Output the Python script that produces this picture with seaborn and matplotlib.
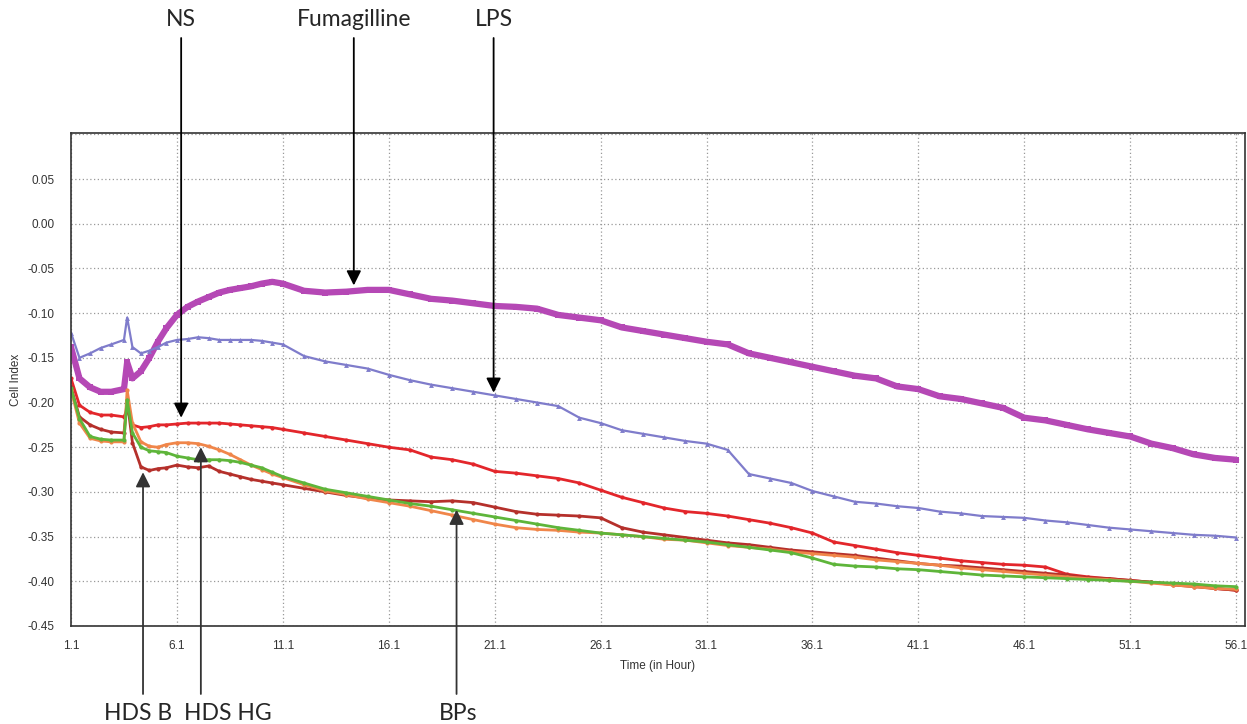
import numpy as np
import pandas as pd
import matplotlib
matplotlib.use("Agg")
import matplotlib.pyplot as plt
import seaborn as sns
from matplotlib.ticker import MultipleLocator, FixedLocator, FuncFormatter

# ---------------- data ----------------
time_h = [1.1, 1.5, 2.0, 2.5, 3.0, 3.6, 3.75, 4.0, 4.4, 4.8, 5.2, 5.6, 6.1, 6.6, 7.1, 7.6,
          8.1, 8.6, 9.1, 9.6, 10.1, 10.6, 11.1, 12.1, 13.1, 14.1, 15.1, 16.1, 17.1, 18.1,
          19.1, 20.1, 21.1, 22.1, 23.1, 24.1, 25.1, 26.1, 27.1, 28.1, 29.1, 30.1, 31.1,
          32.1, 33.1, 34.1, 35.1, 36.1, 37.1, 38.1, 39.1, 40.1, 41.1, 42.1, 43.1, 44.1,
          45.1, 46.1, 47.1, 48.1, 49.1, 50.1, 51.1, 52.1, 53.1, 54.1, 55.1, 56.1]

fumagilline = [-0.138, -0.173, -0.183, -0.188, -0.188, -0.185, -0.155, -0.173, -0.165, -0.150,
               -0.132, -0.117, -0.102, -0.093, -0.087, -0.082, -0.077, -0.074, -0.072, -0.070,
               -0.067, -0.065, -0.067, -0.075, -0.077, -0.076, -0.074, -0.074, -0.079, -0.084,
               -0.086, -0.089, -0.092, -0.093, -0.095, -0.102, -0.105, -0.108, -0.116, -0.120,
               -0.124, -0.128, -0.132, -0.135, -0.145, -0.150, -0.155, -0.160, -0.165, -0.170,
               -0.173, -0.182, -0.185, -0.193, -0.196, -0.201, -0.206, -0.217, -0.220, -0.225,
               -0.230, -0.234, -0.238, -0.246, -0.251, -0.258, -0.262, -0.264]

lps = [-0.122, -0.150, -0.145, -0.139, -0.135, -0.130, -0.105, -0.138, -0.145, -0.142,
       -0.138, -0.133, -0.130, -0.129, -0.127, -0.128, -0.130, -0.130, -0.130, -0.130,
       -0.131, -0.133, -0.135, -0.148, -0.154, -0.158, -0.162, -0.169, -0.175, -0.180,
       -0.184, -0.188, -0.192, -0.196, -0.200, -0.204, -0.217, -0.223, -0.231, -0.235,
       -0.239, -0.243, -0.246, -0.253, -0.280, -0.285, -0.290, -0.299, -0.305, -0.311,
       -0.313, -0.316, -0.318, -0.322, -0.324, -0.327, -0.328, -0.329, -0.332, -0.334,
       -0.337, -0.340, -0.342, -0.344, -0.346, -0.348, -0.349, -0.351]

ns = [-0.173, -0.203, -0.211, -0.214, -0.214, -0.216, -0.208, -0.225, -0.228, -0.227,
      -0.225, -0.225, -0.224, -0.223, -0.223, -0.223, -0.223, -0.224, -0.225, -0.226,
      -0.227, -0.228, -0.230, -0.234, -0.238, -0.242, -0.246, -0.250, -0.253, -0.261,
      -0.264, -0.269, -0.277, -0.279, -0.282, -0.285, -0.290, -0.298, -0.306, -0.312,
      -0.318, -0.322, -0.324, -0.327, -0.331, -0.335, -0.340, -0.346, -0.356, -0.360,
      -0.364, -0.368, -0.371, -0.374, -0.377, -0.379, -0.381, -0.382, -0.384, -0.392,
      -0.395, -0.397, -0.399, -0.401, -0.403, -0.405, -0.408, -0.410]

hds_b = [-0.183, -0.216, -0.225, -0.230, -0.233, -0.234, -0.197, -0.245, -0.272, -0.276,
         -0.274, -0.273, -0.270, -0.272, -0.273, -0.271, -0.277, -0.280, -0.283, -0.286,
         -0.288, -0.290, -0.292, -0.296, -0.300, -0.304, -0.307, -0.309, -0.310, -0.311,
         -0.310, -0.312, -0.317, -0.322, -0.325, -0.326, -0.327, -0.329, -0.340, -0.345,
         -0.348, -0.351, -0.354, -0.357, -0.359, -0.362, -0.365, -0.367, -0.369, -0.371,
         -0.374, -0.377, -0.380, -0.382, -0.383, -0.385, -0.387, -0.389, -0.391, -0.393,
         -0.396, -0.397, -0.399, -0.401, -0.404, -0.406, -0.408, -0.410]

hds_hg = [-0.186, -0.223, -0.240, -0.243, -0.244, -0.244, -0.186, -0.223, -0.244, -0.249,
          -0.250, -0.247, -0.245, -0.245, -0.246, -0.249, -0.253, -0.258, -0.264, -0.270,
          -0.275, -0.280, -0.284, -0.292, -0.299, -0.303, -0.308, -0.312, -0.316, -0.321,
          -0.326, -0.331, -0.336, -0.340, -0.342, -0.343, -0.345, -0.346, -0.348, -0.350,
          -0.353, -0.354, -0.357, -0.360, -0.362, -0.364, -0.367, -0.369, -0.371, -0.373,
          -0.376, -0.378, -0.380, -0.382, -0.385, -0.387, -0.389, -0.391, -0.393, -0.395,
          -0.397, -0.398, -0.400, -0.402, -0.404, -0.406, -0.408, -0.409]

bps = [-0.184, -0.218, -0.238, -0.241, -0.242, -0.242, -0.197, -0.234, -0.250, -0.254,
       -0.255, -0.256, -0.260, -0.262, -0.264, -0.264, -0.264, -0.265, -0.267, -0.270,
       -0.273, -0.278, -0.283, -0.290, -0.297, -0.301, -0.305, -0.309, -0.313, -0.316,
       -0.320, -0.324, -0.328, -0.332, -0.336, -0.340, -0.343, -0.346, -0.348, -0.350,
       -0.352, -0.354, -0.356, -0.359, -0.362, -0.365, -0.368, -0.374, -0.381, -0.383,
       -0.384, -0.386, -0.387, -0.389, -0.391, -0.393, -0.394, -0.395, -0.396, -0.397,
       -0.398, -0.399, -0.400, -0.401, -0.402, -0.403, -0.405, -0.406]

series_names = ["Fumagilline", "LPS", "NS", "HDS B", "HDS HG", "BPs"]
series_values = [fumagilline, lps, ns, hds_b, hds_hg, bps]

y_ticks = [-0.45, -0.40, -0.35, -0.30, -0.25, -0.20, -0.15, -0.10, -0.05, 0.00, 0.05, 0.10]
x_ticks = [1.1, 6.1, 11.1, 16.1, 21.1, 26.1, 31.1, 36.1, 41.1, 46.1, 51.1, 56.1]

# annotation labels and the points they indicate
ann_top = [("NS", 6.3, -0.217), ("Fumagilline", 14.45, -0.069), ("LPS", 21.05, -0.189)]
ann_bottom = [("HDS B", 4.5, -0.278), ("HDS HG", 7.23, -0.250), ("BPs", 19.3, -0.320)]

# ---------------- styles ----------------
colors = {"Fumagilline": "#B548B5", "LPS": "#7F7CCB", "NS": "#E3262B",
          "HDS B": "#B5302B", "HDS HG": "#F0864A", "BPs": "#5EB53A"}
markers = {"Fumagilline": "s", "LPS": "^", "NS": "o", "HDS B": "o", "HDS HG": "o", "BPs": "o"}
lws = {"Fumagilline": 4.5, "LPS": 1.6, "NS": 2.0, "HDS B": 2.0, "HDS HG": 2.0, "BPs": 2.0}
mss = {"Fumagilline": 5, "LPS": 3.5, "NS": 3, "HDS B": 3, "HDS HG": 3, "BPs": 3}

rows = []
for name, vals in zip(series_names, series_values):
    for t, v in zip(time_h, vals):
        rows.append({"Time": t, "Cell Index": v, "Series": name})
df = pd.DataFrame(rows)

sns.set_style("white")
plt.rcParams["font.family"] = ["Liberation Sans", "DejaVu Sans"]

fig = plt.figure(figsize=(12.47, 7.24), dpi=100)
ax = fig.add_axes([71 / 1247, 98 / 724, 1174 / 1247, 493 / 724])

draw_order = ["Fumagilline", "LPS", "NS", "HDS B", "HDS HG", "BPs"]
for name in draw_order:
    sub = df[df["Series"] == name]
    sns.lineplot(data=sub, x="Time", y="Cell Index", ax=ax, color=colors[name],
                 marker=markers[name], markersize=mss[name], linewidth=lws[name],
                 markeredgewidth=0, legend=False, estimator=None, sort=False)

ax.set_xlim(1.1, 56.52)
ax.set_ylim(-0.45, 0.1015)
ax.xaxis.set_major_locator(FixedLocator(x_ticks))
ax.xaxis.set_minor_locator(MultipleLocator(1.0))
ax.yaxis.set_major_locator(FixedLocator(y_ticks))
ax.yaxis.set_minor_locator(MultipleLocator(0.005))
ax.yaxis.set_major_formatter(FuncFormatter(lambda v, p: "" if v > 0.07 else f"{round(v, 2):.2f}".replace("-0.00", "0.00")))
ax.xaxis.set_major_formatter(FuncFormatter(lambda v, p: f"{v:.1f}"))

ax.grid(True, which="major", linestyle=(0, (1, 2)), color="#999999", linewidth=0.9)
ax.tick_params(axis="both", which="major", direction="in", length=6, width=1.0,
               labelsize=8.5, labelcolor="#333333", color="#333333")
ax.tick_params(axis="both", which="minor", direction="in", length=3, width=0.8, color="#333333")
ax.tick_params(axis="x", pad=10)
ax.tick_params(axis="y", pad=12)
for s in ax.spines.values():
    s.set_visible(True)
    s.set_color("#333333")
    s.set_linewidth(1.2)

ax.set_xlabel("Time (in Hour)", fontsize=8.5, color="#333333", labelpad=6)
ax.set_ylabel("Cell Index", fontsize=8.5, color="#333333", labelpad=4)

ann_font = ["Lato", "DejaVu Sans"]
for label, tx, ty in ann_top:
    ax.annotate("", xy=(tx, ty), xycoords="data",
                xytext=(tx, 686), textcoords=("data", "figure pixels"),
                arrowprops=dict(arrowstyle="-|>", color="black", lw=1.3, mutation_scale=22,
                                shrinkA=0, shrinkB=0),
                annotation_clip=False)
    ax.annotate(label, xy=(tx, 704), xycoords=("data", "figure pixels"),
                ha="center", va="center", fontsize=16.5, family=ann_font,
                annotation_clip=False)
for label, tx, ty in ann_bottom:
    ax.annotate("", xy=(tx, ty), xycoords="data",
                xytext=(tx, 30), textcoords=("data", "figure pixels"),
                arrowprops=dict(arrowstyle="-|>", color="#333333", lw=1.3, mutation_scale=22,
                                shrinkA=0, shrinkB=0),
                annotation_clip=False)
offsets_px = {"HDS B": -5, "HDS HG": 27, "BPs": 2}
for label, tx, ty in ann_bottom:
    ax.annotate(label, xy=(tx, 11), xycoords=("data", "figure pixels"),
                xytext=(offsets_px[label] * 0.72, 0), textcoords="offset points",
                ha="center", va="center", fontsize=16.5, family=ann_font,
                annotation_clip=False)

fig.savefig("out.png", dpi=100)
